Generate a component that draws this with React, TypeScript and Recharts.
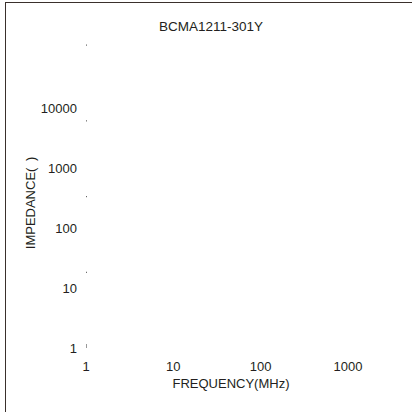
import * as React from "react";
import { ComposedChart, Scatter, XAxis, YAxis } from "recharts";

// tick values
const frequencyTicks = [1, 10, 100, 1000];
const impedanceTicks = [1, 10, 100, 1000, 10000];

// the small grid marks left on the impedance scale
const markFrequency = [1, 1, 1, 1];
const markImpedance = [10, 100, 1000, 10000];

// the only visible piece of the impedance curve
const curveFrequency = [1];
const curveImpedance = [1];

const markData = markFrequency.map((f, i) => ({ f, z: markImpedance[i] }));
const curveData = curveFrequency.map((f, i) => ({ f, z: curveImpedance[i] }));

const textColor = "#231f20";
const font = "'Liberation Sans', Arial, sans-serif";

const MarkDot = (props: any) => (
    <rect x={props.cx - 1} y={props.cy - 0.5} width={2} height={1.2} fill="#666" />
);

const CurveStub = (props: any) => (
    <rect x={props.cx - 0.5} y={props.cy - 4} width={1} height={8} fill="#333" />
);

export default function App() {
    return (
        <div style={{ position: "absolute", left: 0, top: 0, width: 412, height: 412, background: "#fff", fontFamily: font }}>
            <div style={{
                position: "absolute", left: 5, top: 2, right: 0, bottom: 0,
                borderTop: "1.5px solid #3a302c", borderLeft: "1.5px solid #3a302c"
            }} />
            <div style={{
                position: "absolute", left: 0, top: 19, width: 422, textAlign: "center",
                fontSize: 13.5, color: textColor
            }}>BCMA1211-301Y</div>
            <div style={{
                position: "absolute", left: 30, top: 203, transform: "translate(-50%, -50%) rotate(-90deg)",
                whiteSpace: "pre", fontSize: 13, color: textColor
            }}>{"IMPEDANCE(\u2002)"}</div>
            <div style={{ position: "absolute", left: 0, top: 0 }}>
                <ComposedChart
                    width={412}
                    height={412}
                    margin={{ top: 40, right: 36, bottom: 0, left: 0 }}
                    style={{ fontFamily: font }}>
                    <XAxis
                        dataKey="f"
                        type="number"
                        scale="log"
                        domain={[1, 2090]}
                        allowDataOverflow
                        ticks={frequencyTicks}
                        height={64}
                        axisLine={false}
                        tickLine={false}
                        tickSize={8}
                        tickMargin={6}
                        tick={{ fill: textColor, fontSize: 13 }}
                        label={{ value: "FREQUENCY(MHz)", position: "insideBottom", offset: 24, fill: textColor, fontSize: 13 }} />
                    <YAxis
                        yAxisId="m"
                        dataKey="z"
                        type="number"
                        scale="log"
                        domain={[1, 11641]}
                        allowDataOverflow
                        width={0}
                        hide />
                    <YAxis
                        yAxisId="t"
                        type="number"
                        scale="log"
                        domain={[1, 135936]}
                        allowDataOverflow
                        ticks={impedanceTicks}
                        width={86}
                        axisLine={false}
                        tickLine={false}
                        tickSize={6}
                        tickMargin={3}
                        tick={{ fill: textColor, fontSize: 13 }} />
                    <Scatter yAxisId="m" data={markData} shape={MarkDot} isAnimationActive={false} />
                    <Scatter yAxisId="m" data={curveData} shape={CurveStub} isAnimationActive={false} />
                </ComposedChart>
            </div>
        </div>
    );
}
